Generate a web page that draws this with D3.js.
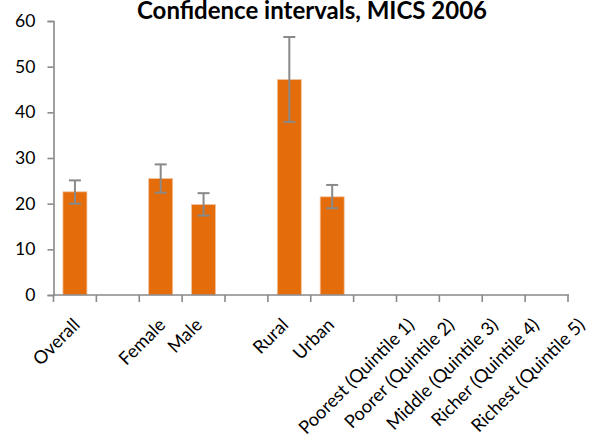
<!DOCTYPE html>
<html>
<head>
<meta charset="utf-8">
<script src="https://cdn.jsdelivr.net/npm/d3@7/dist/d3.min.js"></script>
<style>
  html, body { margin: 0; padding: 0; background: #fff; }
  svg { display: block; font-family: Lato, "Open Sans", sans-serif; }
</style>
</head>
<body>
<svg id="chart" width="600" height="441"></svg>
<script>
// Categories along the x axis (blank entries are spacer slots)
const categories = [
  "Overall", " ", "Female", "Male", "  ", "Rural", "Urban",
  "Poorest (Quintile 1)", "Poorer (Quintile 2)", "Middle (Quintile 3)",
  "Richer (Quintile 4)", "Richest (Quintile 5)"
];
// Point estimates (null = no bar)
const values = [22.6, null, 25.5, 19.8, null, 47.2, 21.5, null, null, null, null, null];
// Confidence interval bounds
const lower = [20.0, null, 22.4, 17.4, null, 37.9, 19.0, null, null, null, null, null];
const upper = [25.1, null, 28.6, 22.3, null, 56.5, 24.1, null, null, null, null, null];
const yTicks = [0, 10, 20, 30, 40, 50, 60];
const title = "Confidence intervals, MICS 2006";

const svg = d3.select("#chart");
const margin = { left: 53.5, right: 32, top: 21, bottom: 146 };
const W = 600, H = 441;
const yFont = 17.6;
const xFont = 18.2;

const x = d3.scaleBand().domain(categories).range([margin.left, W - margin.right]);
const y = d3.scaleLinear().domain([0, 60]).range([H - margin.bottom, margin.top]);
const barWidth = x.bandwidth() * 0.56;

const axisColor = "#898989";
const barColor = "#E46C0A";

// Title
svg.append("text")
  .attr("x", 312).attr("y", 19)
  .attr("text-anchor", "middle")
  .attr("font-weight", "bold")
  .attr("font-size", 24)
  .attr("fill", "#000")
  .text(title);

// Bars
const data = categories.map((c, i) => ({ c, v: values[i], lo: lower[i], hi: upper[i] }))
  .filter(d => d.v !== null);

svg.append("g").selectAll("rect").data(data).join("rect")
  .attr("x", d => x(d.c) + x.bandwidth() / 2 - barWidth / 2)
  .attr("width", barWidth)
  .attr("y", d => y(d.v))
  .attr("height", d => y(0) - y(d.v))
  .attr("fill", barColor)
  .attr("stroke", "#f3c4a0")
  .attr("stroke-width", 0.8);

// Y axis
const yAxis = svg.append("g")
  .attr("transform", `translate(${margin.left},0)`)
  .call(d3.axisLeft(y).tickValues(yTicks).tickSize(6).tickPadding(12));
yAxis.select(".domain").attr("stroke", axisColor).attr("stroke-width", 1.6);
yAxis.selectAll(".tick line").attr("stroke", axisColor).attr("stroke-width", 1.6);
yAxis.selectAll(".tick text").attr("font-size", yFont).attr("fill", "#000")
  .attr("font-family", "Lato, 'Open Sans', sans-serif");

// X axis with boundary ticks between categories
const xg = svg.append("g").attr("transform", `translate(0,${y(0)})`);
xg.append("line")
  .attr("x1", margin.left).attr("x2", W - margin.right + 1)
  .attr("stroke", axisColor).attr("stroke-width", 1.6);
const boundaries = categories.map(c => x(c)).concat([x.range()[1]]);
xg.selectAll("line.tk").data(boundaries).join("line")
  .attr("class", "tk")
  .attr("x1", d => d).attr("x2", d => d)
  .attr("y1", 0).attr("y2", 7)
  .attr("stroke", axisColor).attr("stroke-width", 1.6);

// Rotated category labels: each rotated label block is centred a little
// left of its slot, with its upper end just below the axis
const asc = xFont * 0.74;
const k = Math.SQRT1_2;
xg.selectAll("text").data(categories).join("text")
  .attr("text-anchor", "end")
  .attr("font-size", xFont)
  .attr("fill", "#000")
  .text(c => c.trim())
  .each(function (c) {
    const L = this.getComputedTextLength();
    const px = x(c) + x.bandwidth() / 2 - 19 + k * (L + asc) / 2;
    const py = 21.5 + k * asc;
    d3.select(this).attr("transform", `translate(${px},${py}) rotate(-45)`);
  });

// Error bars
const eb = svg.append("g").attr("stroke", axisColor).attr("stroke-width", 2).attr("fill", "none");
data.forEach(d => {
  const cx = x(d.c) + x.bandwidth() / 2;
  eb.append("line").attr("x1", cx).attr("x2", cx).attr("y1", y(d.lo)).attr("y2", y(d.hi));
  eb.append("line").attr("x1", cx - 6).attr("x2", cx + 6).attr("y1", y(d.lo)).attr("y2", y(d.lo));
  eb.append("line").attr("x1", cx - 6).attr("x2", cx + 6).attr("y1", y(d.hi)).attr("y2", y(d.hi));
});
</script>
</body>
</html>
